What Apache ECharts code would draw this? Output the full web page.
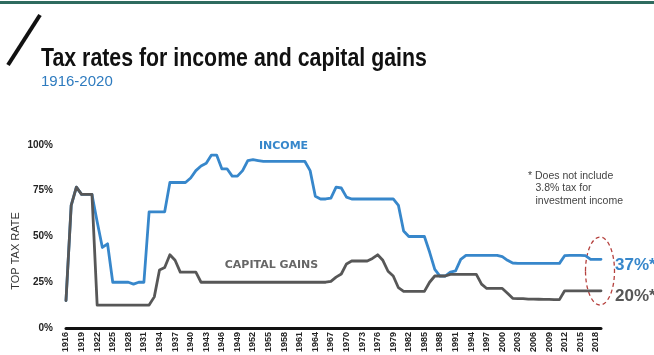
<!DOCTYPE html>
<html>
<head>
<meta charset="utf-8">
<script src="https://cdn.jsdelivr.net/npm/echarts@6/dist/echarts.min.js"></script>
<style>
html,body{margin:0;padding:0;background:#fff;}
#chart{width:654px;height:355px;}
</style>
</head>
<body>
<div id="chart"></div>
<script>
// ---- data ----
var years = [];
for (var yr = 1916; yr <= 2019; yr++) years.push(String(yr));

var yTicks = [0, 25, 50, 75, 100];

var incomeRate = [
  15, 67, 77, 73, 73, 73, 58, 44, 46, 25,          // 1916-1925
  25, 25, 25, 24, 25, 25, 63.5, 63.5, 63.5, 63.5,  // 1926-1935
  79.5, 79.5, 79.5, 79.5, 82, 86, 88.5, 90, 94.5, 94.5, // 1936-1945
  87, 87, 83, 83, 86, 91.5, 92, 91.5, 91, 91,      // 1946-1955
  91, 91, 91, 91, 91, 91, 91, 86, 72, 70.5,        // 1956-1965
  70.5, 71, 77, 76.5, 71.5, 70.5, 70.5, 70.5, 70.5, 70.5, // 1966-1975
  70.5, 70.5, 70.5, 70.5, 67, 53, 50, 50, 50, 50,  // 1976-1985
  41.5, 32, 28.4, 28.4, 30.5, 31.2, 37.5, 39.7, 39.7, 39.7, // 1986-1995
  39.7, 39.7, 39.7, 39.7, 39, 37, 35.5, 35.3, 35.3, 35.3, // 1996-2005
  35.3, 35.3, 35.3, 35.3, 35.3, 35.3, 39.5, 39.7, 39.7, 39.7, // 2006-2015
  39.5, 37.5, 37.5, 37.5                            // 2016-2019
];

var capitalGainsRate = [
  15, 67, 77, 73, 73, 73, 12.5, 12.5, 12.5, 12.5,  // 1916-1925
  12.5, 12.5, 12.5, 12.5, 12.5, 12.5, 12.5, 17, 31.7, 33, // 1926-1935
  40, 37, 30.5, 30.5, 30.5, 30.5, 25, 25, 25, 25,  // 1936-1945
  25, 25, 25, 25, 25, 25, 25, 25, 25, 25,          // 1946-1955
  25, 25, 25, 25, 25, 25, 25, 25, 25, 25,          // 1956-1965
  25, 25.5, 27.8, 29.5, 35, 36.6, 36.6, 36.6, 36.6, 38, // 1966-1975
  40, 37, 31, 28.4, 22, 20, 20, 20, 20, 20,        // 1976-1985
  25, 28.4, 28.4, 28.4, 29.3, 29.3, 29.3, 29.3, 29.3, 29.3, // 1986-1995
  24, 21.6, 21.6, 21.6, 21.6, 19, 16.2, 16, 16, 15.8, // 1996-2005
  15.8, 15.7, 15.6, 15.6, 15.5, 15.5, 20.3, 20.3, 20.3, 20.3, // 2006-2015
  20.3, 20.3, 20.3, 20.3                            // 2016-2019
];

var seriesNames = ['INCOME', 'CAPITAL GAINS'];
var endLabels = ['37%*', '20%*'];

// ---- chart ----
var BLUE = '#3787cb';
var GREY = '#575757';
var FONT = '"Liberation Sans", Arial, sans-serif';
var chart = echarts.init(document.getElementById('chart'), null, {renderer: 'canvas'});

var option = {
  animation: false,
  backgroundColor: '#ffffff',
  grid: {left: 66, right: 53, top: 145, bottom: 26, containLabel: false},
  xAxis: {
    type: 'category',
    data: years,
    boundaryGap: false,
    axisLine: {show: true, lineStyle: {color: '#111', width: 3}},
    axisTick: {show: false},
    splitLine: {show: false},
    axisLabel: {
      interval: 2, rotate: 90, margin: 4,
      fontFamily: FONT, fontSize: 9, fontWeight: 'bold', color: '#222'
    }
  },
  yAxis: {
    type: 'value',
    min: yTicks[0], max: yTicks[yTicks.length - 1], interval: 25,
    axisLine: {show: false},
    axisTick: {show: false},
    splitLine: {show: false},
    axisLabel: {
      margin: 13, formatter: '{value}%',
      fontFamily: FONT, fontSize: 10, fontWeight: 'bold', color: '#222'
    }
  },
  series: [
    {
      name: seriesNames[0], type: 'line', data: incomeRate,
      symbol: 'none', z: 2,
      lineStyle: {color: BLUE, width: 2.8, join: 'round', cap: 'round'}
    },
    {
      name: seriesNames[1], type: 'line', data: capitalGainsRate,
      symbol: 'none', z: 3,
      lineStyle: {color: GREY, width: 2.8, join: 'round', cap: 'round'}
    }
  ],
  graphic: [
    {type: 'rect', left: 0, top: 1, shape: {x: 0, y: 0, width: 654, height: 3}, style: {fill: '#2f6b5f'}},
    {type: 'line', shape: {x1: 8, y1: 65, x2: 40, y2: 15}, style: {stroke: '#111', lineWidth: 4}},
    {type: 'text', x: 41, y: 58.5, scaleX: 0.82,
      style: {text: 'Tax rates for income and capital gains', font: 'bold 26px ' + FONT, fill: '#111', align: 'left', verticalAlign: 'middle'}},
    {type: 'text', x: 41, y: 82,
      style: {text: '1916-2020', font: '15px ' + FONT, fill: '#2e7bbf', align: 'left', verticalAlign: 'middle'}},
    {type: 'text', x: 16, y: 251, rotation: Math.PI / 2,
      style: {text: 'TOP TAX RATE', font: '11px ' + FONT, fill: '#333', align: 'center', verticalAlign: 'middle'}},
    {type: 'text', x: 283.5, y: 146,
      style: {text: seriesNames[0], font: 'bold 11px "DejaVu Sans", sans-serif', fill: BLUE, align: 'center', verticalAlign: 'middle'}},
    {type: 'text', x: 271.5, y: 265,
      style: {text: seriesNames[1], font: 'bold 11px "DejaVu Sans", sans-serif', fill: '#666', align: 'center', verticalAlign: 'middle'}},
    {type: 'text', x: 528, y: 176,
      style: {text: '* Does not include', font: '10.5px ' + FONT, fill: '#444', align: 'left', verticalAlign: 'middle'}},
    {type: 'text', x: 535.5, y: 188.5,
      style: {text: '3.8% tax for', font: '10.5px ' + FONT, fill: '#444', align: 'left', verticalAlign: 'middle'}},
    {type: 'text', x: 535.5, y: 201,
      style: {text: 'investment income', font: '10.5px ' + FONT, fill: '#444', align: 'left', verticalAlign: 'middle'}},
    {type: 'ellipse', shape: {cx: 600, cy: 271, rx: 14.5, ry: 34},
      style: {fill: 'none', stroke: '#b5403d', lineWidth: 1.3, lineDash: [4, 3]}},
    {type: 'text', x: 615, y: 265,
      style: {text: endLabels[0], font: 'bold 17px ' + FONT, fill: BLUE, align: 'left', verticalAlign: 'middle'}},
    {type: 'text', x: 615, y: 296,
      style: {text: endLabels[1], font: 'bold 17px ' + FONT, fill: GREY, align: 'left', verticalAlign: 'middle'}}
  ]
};
chart.setOption(option);
</script>
</body>
</html>
